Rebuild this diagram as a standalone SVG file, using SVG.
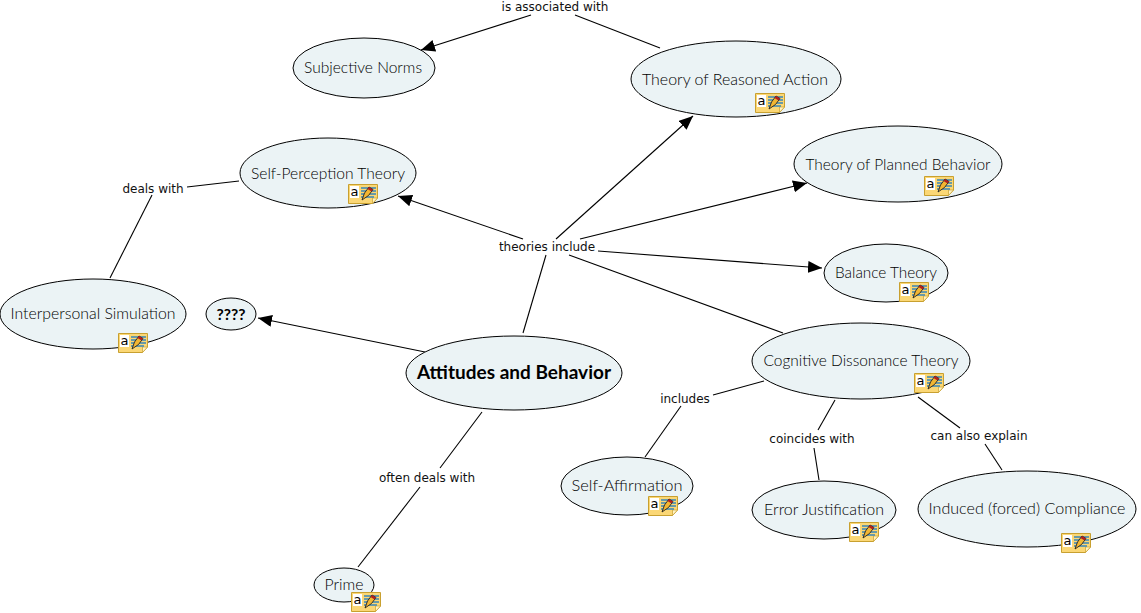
<svg xmlns="http://www.w3.org/2000/svg" width="1141" height="613" viewBox="0 0 1141 613">
<style>
.n{fill:#ebf3f5;stroke:#000;stroke-width:1}
.t{font-family:"Lato","Noto Sans",sans-serif;font-size:16px;font-weight:300;fill:#000;text-anchor:middle}
.b{font-size:18px;font-weight:700;fill:#000}
.l{font-family:"DejaVu Sans",Verdana,sans-serif;font-size:12px;fill:#111;text-anchor:middle}
.c line{stroke:#000;stroke-width:1.1}
</style>
<defs>
<marker id="a" markerUnits="userSpaceOnUse" markerWidth="15" markerHeight="13" refX="14" refY="6" orient="auto"><path d="M0 0L14 6L0 12Z" fill="#000"/></marker>
<g id="note">
<path d="M.5 .5H29.5V14L24.5 19.5H.5Z" fill="#fbd775" stroke="#c8a030"/>
<path d="M24.5 19.5V14H29.5Z" fill="#fff3c4" stroke="#c8a030" stroke-width=".7"/>
<rect x="2" y="2" width="9" height="12" fill="#fff"/>
<text x="6.5" y="12" font-family="DejaVu Sans,sans-serif" font-size="13" fill="#000" text-anchor="middle">a</text>
<path d="M13 4H28M13 7H28M13 10H28M13 13H26" stroke="#3a86b8" stroke-width="1.4"/>
<path d="M14 16L16.500 9L21 3L25 5.500L20.500 11.500Z" fill="#f2b632" stroke="#222" stroke-width=".9"/>
<path d="M21 3L25 5.500L23.500 7.500L19.500 5Z" fill="#b02020"/>
</g>
</defs>
<g class="c" id="connectors">
<line x1="660" y1="48" x2="575" y2="15"/>
<line x1="531" y1="15" x2="421" y2="50" marker-end="url(#a)"/>
<line x1="239" y1="181" x2="187" y2="187"/>
<line x1="152" y1="195" x2="110" y2="278"/>
<line x1="523" y1="333" x2="546" y2="255"/>
<line x1="556" y1="239" x2="693" y2="116" marker-end="url(#a)"/>
<line x1="523" y1="239" x2="398" y2="196" marker-end="url(#a)"/>
<line x1="580" y1="239" x2="807" y2="183" marker-end="url(#a)"/>
<line x1="598" y1="251" x2="822" y2="268" marker-end="url(#a)"/>
<line x1="569" y1="255" x2="783" y2="333"/>
<line x1="425" y1="352" x2="258" y2="318" marker-end="url(#a)"/>
<line x1="482" y1="412" x2="440" y2="468"/>
<line x1="420" y1="487" x2="358" y2="567"/>
<line x1="764" y1="381" x2="713" y2="395"/>
<line x1="681" y1="406" x2="645" y2="457"/>
<line x1="835" y1="400" x2="818" y2="430"/>
<line x1="814" y1="448" x2="819" y2="480"/>
<line x1="918" y1="397" x2="960" y2="428"/>
<line x1="985" y1="444" x2="1002" y2="470"/>
</g>
<g id="labels">
<text class="l" x="555" y="11">is associated with</text>
<text class="l" x="153" y="193">deals with</text>
<text class="l" x="547" y="251">theories include</text>
<text class="l" x="427" y="482">often deals with</text>
<text class="l" x="685" y="403">includes</text>
<text class="l" x="812" y="443">coincides with</text>
<text class="l" x="979" y="440">can also explain</text>
</g>
<g id="subjective-norms"><ellipse class="n" cx="364" cy="68" rx="71" ry="30"/><text class="t" x="363" y="73" textLength="118" lengthAdjust="spacingAndGlyphs">Subjective Norms</text></g>
<g id="reasoned-action"><ellipse class="n" cx="736" cy="79" rx="105" ry="38"/><text class="t" x="735" y="85" textLength="186" lengthAdjust="spacingAndGlyphs">Theory of Reasoned Action</text><use href="#note" x="755" y="93"/></g>
<g id="self-perception"><ellipse class="n" cx="328" cy="173" rx="88" ry="35"/><text class="t" x="328" y="179" textLength="154" lengthAdjust="spacingAndGlyphs">Self-Perception Theory</text><use href="#note" x="348" y="184"/></g>
<g id="planned-behavior"><ellipse class="n" cx="898" cy="164" rx="104" ry="38"/><text class="t" x="898" y="170" textLength="185" lengthAdjust="spacingAndGlyphs">Theory of Planned Behavior</text><use href="#note" x="924" y="176"/></g>
<g id="balance"><ellipse class="n" cx="886" cy="273" rx="62" ry="29"/><text class="t" x="886" y="278" textLength="102" lengthAdjust="spacingAndGlyphs">Balance Theory</text><use href="#note" x="899" y="282"/></g>
<g id="interpersonal"><ellipse class="n" cx="93" cy="314" rx="93" ry="35"/><text class="t" x="93" y="319" textLength="165" lengthAdjust="spacingAndGlyphs">Interpersonal Simulation</text><use href="#note" x="118" y="333"/></g>
<g id="unknown"><ellipse class="n" cx="231" cy="314" rx="25" ry="16"/><text class="t b" x="231" y="320" textLength="29" lengthAdjust="spacingAndGlyphs" style="font-size:16px">????</text></g>
<g id="attitudes"><ellipse class="n" cx="514" cy="373" rx="108" ry="37"/><text class="t b" x="514" y="379" textLength="194" lengthAdjust="spacingAndGlyphs">Attitudes and Behavior</text></g>
<g id="dissonance"><ellipse class="n" cx="861" cy="361" rx="109" ry="38"/><text class="t" x="861" y="366" textLength="195" lengthAdjust="spacingAndGlyphs">Cognitive Dissonance Theory</text><use href="#note" x="914" y="373"/></g>
<g id="self-affirmation"><ellipse class="n" cx="627" cy="486" rx="66" ry="29"/><text class="t" x="627" y="491" textLength="111" lengthAdjust="spacingAndGlyphs">Self-Affirmation</text><use href="#note" x="648" y="496"/></g>
<g id="error-justification"><ellipse class="n" cx="824" cy="510" rx="72" ry="29"/><text class="t" x="824" y="515" textLength="120" lengthAdjust="spacingAndGlyphs">Error Justification</text><use href="#note" x="849" y="522"/></g>
<g id="induced-compliance"><ellipse class="n" cx="1027" cy="509" rx="109" ry="38"/><text class="t" x="1027" y="514" textLength="197" lengthAdjust="spacingAndGlyphs">Induced (forced) Compliance</text><use href="#note" x="1061" y="533"/></g>
<g id="prime"><ellipse class="n" cx="344" cy="585" rx="30" ry="17"/><text class="t" x="344" y="590" textLength="39" lengthAdjust="spacingAndGlyphs">Prime</text><use href="#note" x="351" y="592"/></g>
</svg>
